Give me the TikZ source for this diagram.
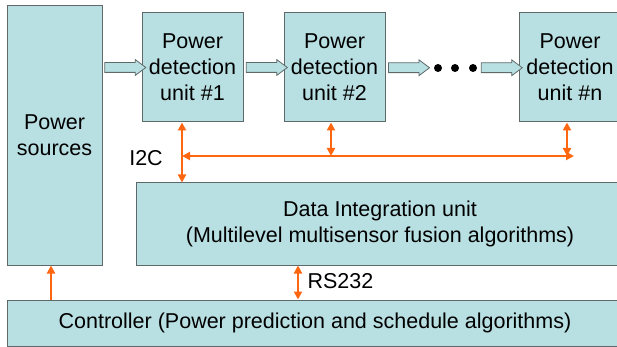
\documentclass[tikz,border=0pt]{standalone}
\usepackage{fontspec}
\setmainfont{Liberation Sans}
\usetikzlibrary{shapes.arrows,arrows.meta}
\definecolor{boxfill}{RGB}{184,223,226}
\definecolor{boxline}{RGB}{95,105,105}
\definecolor{busorange}{RGB}{255,102,16}

\begin{document}
\begin{tikzpicture}[
  x=1pt, y=-1pt,
  font=\fontsize{21.5}{26}\selectfont,
  box/.style={rectangle,draw=boxline,fill=boxfill,line width=1pt,align=center,inner sep=0pt},
  blockarrow/.style={single arrow,draw=boxline,fill=boxfill,line width=0.8pt,inner sep=0pt,
    inner ysep=4.5pt,minimum height=41pt,single arrow head extend=3pt,
    single arrow tip angle=74,anchor=center},
  dot/.style={circle,fill=black,inner sep=0pt,minimum size=8pt},
  bus/.style={draw=busorange,line width=2pt},
  >={Triangle[length=8pt,width=8pt]}
]
  \clip (0,0) rectangle (617,347);

  \node[box,minimum width=95,minimum height=259] (ps) at (54.5,135.5) {Power\\sources};
  \node[box,minimum width=101,minimum height=109] (u1) at (192.5,67.5) {Power\\detection\\unit \#1};
  \node[box,minimum width=101,minimum height=109] (u2) at (334.5,67.5) {Power\\detection\\unit \#2};
  \node[box,minimum width=101,minimum height=109] (un) at (570,67.5) {Power\\detection\\unit \#n};
  \node[box,minimum width=488,minimum height=82] (di) at (380,224)
    {Data Integration unit\\(Multilevel multisensor fusion algorithms)};
  \node[box,minimum width=616,minimum height=46] (ctl) at (315,323)
    {Controller (Power prediction and schedule algorithms)};

  \node[dot] (d1) at (438,68) {};
  \node[dot] (d2) at (455,68) {};
  \node[dot] (d3) at (473,68) {};
  \coordinate (din) at (426,68);
  \coordinate (dout) at (478,68);

  \path (u1.west -| ps.east) -- node[blockarrow]{} (u1.west);
  \path (u1.east) -- node[blockarrow]{} (u2.west);
  \path (u2.east) -- node[blockarrow]{} (din);
  \path (dout) -- node[blockarrow]{} (un.west);

  % I2C bus
  \coordinate (b1) at (182,156);
  \coordinate (b2) at (331,156);
  \coordinate (bn) at (567,156);
  \coordinate (bend) at (574,156);
  \draw[bus,<->] (b1 |- u1.south) -- (b1 |- di.north);
  \draw[bus,<->] (b1) -- (bend);
  \draw[bus,<->] (b2 |- u2.south) -- (b2);
  \draw[bus,<->] (bn |- un.south) -- (bn);
  \node (i2c) at (146,158) {I2C};

  % RS232 and control
  \coordinate (rs) at (298,283);
  \draw[bus,<->] (rs |- di.south) -- (rs |- ctl.north);
  \node[anchor=west] (rslabel) at (304,281) {RS232};
  \coordinate (pw) at (51,283);
  \draw[bus,->] (pw |- ctl.north) -- (pw |- ps.south);
\end{tikzpicture}
\end{document}
